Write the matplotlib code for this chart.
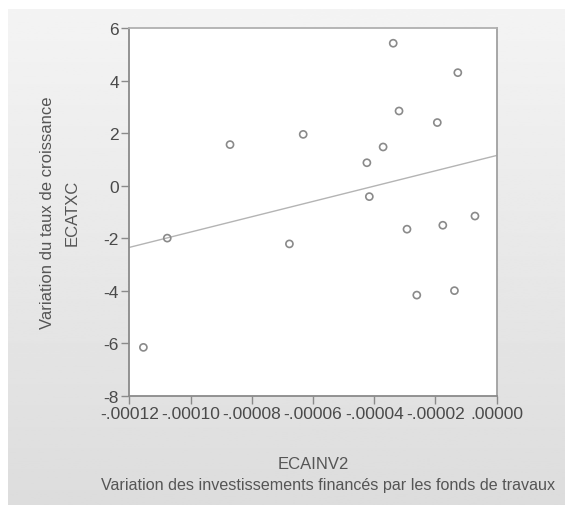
import numpy as np
import matplotlib.pyplot as plt

plt.rcParams['font.family'] = ['Liberation Sans', 'DejaVu Sans']
plt.rcParams['axes.unicode_minus'] = False

# ECAINV2 (x) and ECATXC (y)
ecainv2 = [-0.0001154, -0.0001076, -0.0000871, -0.0000677, -0.0000632, -0.0000424,
           -0.0000416, -0.0000371, -0.0000338, -0.0000319, -0.0000293, -0.0000261,
           -0.0000194, -0.0000176, -0.0000138, -0.0000127, -0.0000071]
ecatxc = [-6.16, -2.00, 1.56, -2.22, 1.95, 0.87,
          -0.42, 1.47, 5.42, 2.84, -1.66, -4.17,
          2.40, -1.51, -4.00, 4.30, -1.16]

x_ticks = [-0.00012, -0.00010, -0.00008, -0.00006, -0.00004, -0.00002, 0.0]
x_tick_labels = ['-.00012', '-.00010', '-.00008', '-.00006', '-.00004', '-.00002', '.00000']
y_ticks = [-8, -6, -4, -2, 0, 2, 4, 6]

W, H = 565, 506
fig = plt.figure(figsize=(W / 100, H / 100), dpi=100, facecolor='white')

# grey gradient panel behind the chart
bg = fig.add_axes([8 / W, 0, 1 - 8 / W, 1 - 10 / H])
grad = np.linspace(0.955, 0.865, 256).reshape(-1, 1)
bg.imshow(grad, aspect='auto', cmap='gray', vmin=0, vmax=1, extent=[0, 1, 0, 1])
bg.set_axis_off()

ax = fig.add_axes([129.3 / W, 1 - 396.7 / H, (496.7 - 129.3) / W, (396.7 - 29) / H])
ax.set_facecolor('white')

ax.scatter(ecainv2, ecatxc, s=26, facecolors='none', edgecolors='#8a8a8a',
           linewidths=1.2, zorder=3)

# least squares line across the full x range
slope, intercept = np.polyfit(ecainv2, ecatxc, 1)
xl = np.array([-0.00012, 0.0])
ax.plot(xl, intercept + slope * xl, color='#b4b4b4', lw=1.0, zorder=2)

ax.set_xlim(-0.00012, 0.0)
ax.set_ylim(-8, 6)
ax.set_xticks(x_ticks)
ax.set_xticklabels(x_tick_labels)
ax.set_yticks(y_ticks)
ax.tick_params(direction='out', length=5.5, width=1, color='#8a8a8a',
               labelsize=12.5, labelcolor='#4a4a4a', pad=2)
for s in ax.spines.values():
    s.set_color('#8a8a8a')
    s.set_linewidth(1.3)
ax.spines['top'].set_color('#b0b0b0')
ax.spines['right'].set_color('#a0a0a0')

ax.set_ylabel('Variation du taux de croissance\nECATXC', fontsize=12,
              color='#555555', labelpad=17, linespacing=1.8)

fig.text(313 / W, 1 - 465 / H, 'ECAINV2', ha='center', va='center',
         fontsize=12, color='#555555')
fig.text(101 / W, 1 - 486 / H, 'Variation des investissements financés par les fonds de travaux',
         ha='left', va='center', fontsize=11.6, color='#555555')

fig.savefig('out.png', dpi=100, facecolor='white')
